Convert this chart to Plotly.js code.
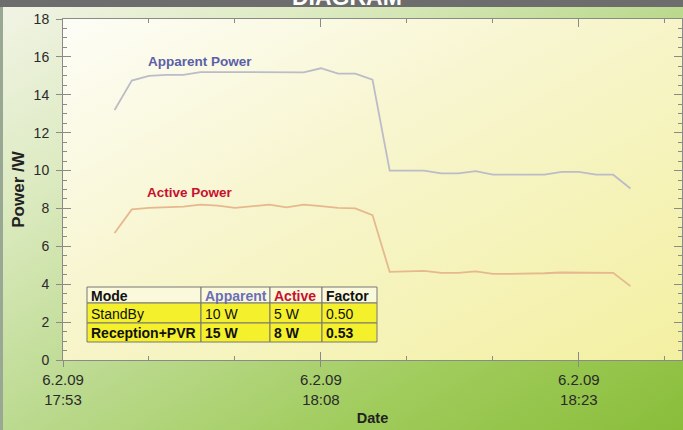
<!DOCTYPE html>
<html><head><meta charset="utf-8">
<script src="https://cdn.plot.ly/plotly-3.0.1.min.js"></script>
<style>
html,body{margin:0;padding:0;background:#fff;}
#chart{width:683px;height:430px;background:linear-gradient(to bottom right,#f2f4e6 0%,#dceac0 25%,#bcda90 50%,#a0cc5c 75%,#8abd3a 100%);}
</style></head><body><div id="chart"></div>
<script>
// ---- data ----
const times = [
  '2009-02-06 17:56','2009-02-06 17:57','2009-02-06 17:58','2009-02-06 17:59','2009-02-06 18:00',
  '2009-02-06 18:01','2009-02-06 18:02','2009-02-06 18:03','2009-02-06 18:04','2009-02-06 18:05',
  '2009-02-06 18:06','2009-02-06 18:07','2009-02-06 18:08','2009-02-06 18:09','2009-02-06 18:10',
  '2009-02-06 18:11','2009-02-06 18:12','2009-02-06 18:13','2009-02-06 18:14','2009-02-06 18:15',
  '2009-02-06 18:16','2009-02-06 18:17','2009-02-06 18:18','2009-02-06 18:19','2009-02-06 18:20',
  '2009-02-06 18:21','2009-02-06 18:22','2009-02-06 18:23','2009-02-06 18:24','2009-02-06 18:25',
  '2009-02-06 18:26'
];
const apparentPower = [
  13.2, 14.75, 15.0, 15.05, 15.05, 15.2, 15.2, 15.2, 15.18, 15.18,
  15.18, 15.18, 15.4, 15.12, 15.12, 14.8, 10.0, 10.0, 10.0, 9.85,
  9.85, 9.97, 9.78, 9.78, 9.78, 9.78, 9.93, 9.93, 9.78, 9.78,
  9.05
];
const activePower = [
  6.7, 7.95, 8.03, 8.05, 8.1, 8.2, 8.15, 8.03, 8.1, 8.2,
  8.06, 8.2, 8.12, 8.03, 8.0, 7.65, 4.65, 4.68, 4.7, 4.6,
  4.6, 4.68, 4.55, 4.55, 4.55, 4.58, 4.62, 4.62, 4.62, 4.6,
  3.9
];
const xTickVals = ['2009-02-06 17:53','2009-02-06 18:08','2009-02-06 18:23'];
const xTickText = ['6.2.09<br>17:53','6.2.09<br>18:08','6.2.09<br>18:23'];
const xRange = ['2009-02-06 17:53','2009-02-06 18:29'];
const yRange = [0, 18];

const tableHeaders = ['Mode','Apparent','Active','Factor'];
const tableModes = ['StandBy','Reception+PVR'];
const tableApparent = ['10 W','15 W'];
const tableActive = ['5 W','8 W'];
const tableFactor = ['0.50','0.53'];
const boldRows = [false, true];

// ---- styles ----
const FONT = 'Liberation Sans, Arial, sans-serif';
const AX = '#8a8a8a';
const W = 683, H = 430, M = {l:63, r:1, t:19, b:70};
const PW = W - M.l - M.r, PH = H - M.t - M.b;
const px2x = p => (p - M.l) / PW;
const px2y = p => (H - M.b - p) / PH;
const bold = s => '<b>' + s + '</b>';

// table geometry (pixels) and colours
const colEdges = [87, 201, 270, 322, 377];
const rowEdges = [287, 303, 323, 342];
const headerColors = ['#111111', '#6b6fb8', '#c8102e', '#111111'];
const headerFill = '#fbf9dc', cellFill = '#f5f02c', gridColor = '#767676';

const shapes = [
  {type:'rect', xref:'paper', yref:'paper', x0:-0.2, x1:1.2, y0:px2y(7), y1:1.2, fillcolor:'#6d6d6d', line:{width:0}},
  {type:'rect', xref:'paper', yref:'paper', x0:-0.2, x1:px2x(3), y0:-0.5, y1:px2y(7), fillcolor:'#98a893', line:{width:0}}
];
const annotations = [
  {text:'<b>DIAGRAM</b>', xref:'paper', yref:'paper', x:px2x(347), y:px2y(11.5), xanchor:'center', yanchor:'bottom',
   showarrow:false, font:{family:FONT, size:23, color:'#ffffff'}},
  {text:'<b>Apparent Power</b>', xref:'paper', yref:'paper', x:px2x(146), y:px2y(61), xanchor:'left', yanchor:'middle',
   showarrow:false, font:{family:FONT, size:13.5, color:'#5a5fa8'}},
  {text:'<b>Active Power</b>', xref:'paper', yref:'paper', x:px2x(145), y:px2y(192), xanchor:'left', yanchor:'middle',
   showarrow:false, font:{family:FONT, size:13.5, color:'#c8102e'}}
];

const tableCols = [tableModes, tableApparent, tableActive, tableFactor];
const tableRows = [tableHeaders.map(bold)];
for (let r = 0; r < tableModes.length; r++) {
  tableRows.push(tableCols.map(col => boldRows[r] ? bold(col[r]) : col[r]));
}
tableRows.forEach((row, r) => {
  row.forEach((txt, c) => {
    shapes.push({type:'rect', xref:'paper', yref:'paper',
      x0:px2x(colEdges[c]), x1:px2x(colEdges[c+1]), y0:px2y(rowEdges[r+1]), y1:px2y(rowEdges[r]),
      fillcolor: r === 0 ? headerFill : cellFill, line:{color:gridColor, width:1}});
    annotations.push({text:txt, xref:'paper', yref:'paper',
      x:px2x(colEdges[c] + 2), y:px2y((rowEdges[r] + rowEdges[r+1]) / 2 + 0.5),
      xanchor:'left', yanchor:'middle', showarrow:false,
      font:{family:FONT, size:14, color: r === 0 ? headerColors[c] : '#111111'}});
  });
});

const plotSvg = '<svg xmlns="http://www.w3.org/2000/svg" width="200" height="200" preserveAspectRatio="none">' +
  '<defs><linearGradient id="g" x1="0" y1="0" x2="1" y2="1">' +
  '<stop offset="0" stop-color="#fdfdf7"/><stop offset="0.45" stop-color="#f7f5cc"/><stop offset="1" stop-color="#f3f0a2"/>' +
  '</linearGradient></defs><rect width="200" height="200" fill="url(#g)"/></svg>';

const traces = [
  {type:'scatter', mode:'lines', x:times, y:apparentPower, name:'Apparent Power',
   line:{color:'#bbbcc8', width:1.8}, hoverinfo:'skip'},
  {type:'scatter', mode:'lines', x:times, y:activePower, name:'Active Power',
   line:{color:'#e6b88e', width:1.8}, hoverinfo:'skip'},
  {type:'scatter', mode:'lines', x:[], y:[], xaxis:'x2', yaxis:'y2', hoverinfo:'skip'}
];

const layout = {
  width:W, height:H,
  margin:M,
  paper_bgcolor:'rgba(0,0,0,0)', plot_bgcolor:'rgba(0,0,0,0)',
  showlegend:false,
  font:{family:FONT, color:'#333'},
  xaxis:{type:'date', range:xRange, tickmode:'array', tickvals:xTickVals, ticktext:xTickText,
    ticks:'outside', ticklen:6, tickcolor:AX, showline:true, linecolor:AX, linewidth:1,
    showgrid:false, zeroline:false, fixedrange:true,
    tickfont:{family:FONT, size:15, color:'#2a2a2a'},
    title:{text:'<b>Date</b>', font:{family:FONT, size:14.5, color:'#222'}, standoff:6}},
  yaxis:{range:yRange, dtick:2, ticks:'outside', ticklen:6, tickcolor:AX, showline:true, linecolor:AX,
    showgrid:false, zeroline:false, fixedrange:true, ticklabelstandoff:4,
    tickfont:{family:FONT, size:14, color:'#2a2a2a'},
    title:{text:'<b>Power /W</b>', font:{family:FONT, size:17, color:'#222'}, standoff:4}},
  xaxis2:{type:'date', overlaying:'x', anchor:'y', side:'bottom', range:xRange,
    tickmode:'linear', tick0:'2009-02-06 17:53', dtick:900000,
    ticks:'inside', ticklen:8, tickcolor:AX, showline:true, linecolor:AX, mirror:'ticks',
    minor:{tickmode:'linear', tick0:'2009-02-06 17:53', dtick:300000, ticks:'inside', ticklen:4, tickcolor:AX},
    showticklabels:false, showgrid:false, zeroline:false, fixedrange:true},
  yaxis2:{overlaying:'y', anchor:'x', side:'left', range:yRange, dtick:2,
    ticks:'inside', ticklen:8, tickcolor:AX, showline:true, linecolor:AX, mirror:'ticks',
    minor:{dtick:0.5, ticks:'inside', ticklen:4, tickcolor:AX},
    showticklabels:false, showgrid:false, zeroline:false, fixedrange:true},
  images:[{source:'data:image/svg+xml;base64,' + btoa(plotSvg), xref:'paper', yref:'paper',
    x:0, y:1, sizex:1, sizey:1, sizing:'stretch', xanchor:'left', yanchor:'top', layer:'below'}],
  shapes:shapes,
  annotations:annotations
};

Plotly.newPlot('chart', traces, layout, {displayModeBar:false, staticPlot:true});
</script>
</body></html>
